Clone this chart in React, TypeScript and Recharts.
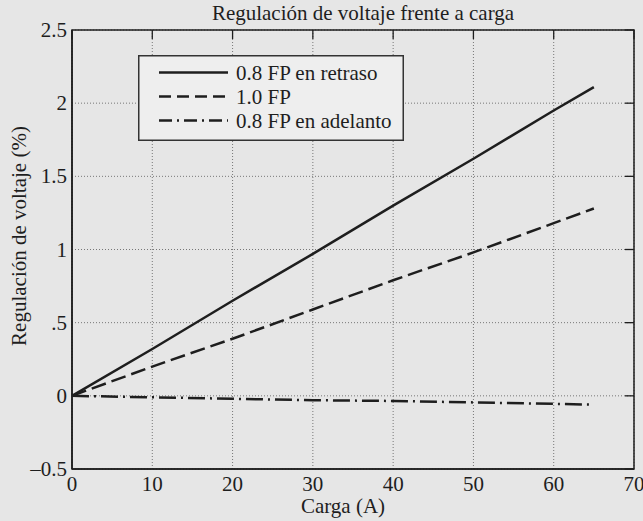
import React from 'react';
import { LineChart, Line, XAxis, YAxis, CartesianGrid, Legend, ReferenceArea } from 'recharts';

// ---- data ----
const cargaA = [0, 10, 20, 30, 40, 50, 60, 65];
const fp08Retraso = [0, 0.32, 0.65, 0.97, 1.3, 1.62, 1.95, 2.11];
const fp10 = [0, 0.2, 0.39, 0.59, 0.79, 0.98, 1.18, 1.28];
const fp08Adelanto = [0, -0.01, -0.02, -0.03, -0.035, -0.045, -0.055, -0.06];

const xTicks = [0, 10, 20, 30, 40, 50, 60, 70];
const yTicks = [-0.5, 0, 0.5, 1, 1.5, 2, 2.5];
const yTickLabels = ['\u20130.5', '0', '.5', '1', '1.5', '2', '2.5'];
const seriesNames = ['0.8 FP en retraso', '1.0 FP', '0.8 FP en adelanto'];
const titleText = 'Regulación de voltaje frente a carga';
const xLabelText = 'Carga (A)';
const yLabelText = 'Regulación de voltaje (%)';

const rows = cargaA.map((x, i) => ({
  x,
  s1: fp08Retraso[i],
  s2: fp10[i],
  s3: fp08Adelanto[i],
}));

// ---- layout / style ----
const W = 643;
const H = 521;
const PLOT_TOP = 30;
const PLOT_RIGHT = 634;
const TICK = 9;
const FONT = '"Liberation Serif", "Times New Roman", serif';
const FS = 21;
const INK = '#1e1e1e';
const BG = '#e6e6e6';

const dashes = [undefined, '15 6', '17 5 2 5'];
const legendDashes = [undefined, '12 6', '13 5 2 5'];

const XTick = (props: any) => {
  const { x, y, payload } = props;
  return (
    <g>
      <line x1={x} y1={PLOT_TOP} x2={x} y2={PLOT_TOP + TICK} stroke={INK} strokeWidth={1.3} />
      <text x={x} y={y + 22} textAnchor="middle" fontFamily={FONT} fontSize={FS} fill={INK}>
        {payload.value}
      </text>
    </g>
  );
};

const YTick = (props: any) => {
  const { x, y, payload } = props;
  const idx = yTicks.indexOf(payload.value);
  return (
    <g>
      <line x1={PLOT_RIGHT - TICK} y1={y} x2={PLOT_RIGHT} y2={y} stroke={INK} strokeWidth={1.3} />
      <text x={x - 5} y={y + 7} textAnchor="end" fontFamily={FONT} fontSize={FS} fill={INK}>
        {idx >= 0 ? yTickLabels[idx] : payload.value}
      </text>
    </g>
  );
};

const LegendBox = () => (
  <svg width={266} height={86} style={{ display: 'block' }}>
    <rect x={0.75} y={0.75} width={264.5} height={84.5} fill="#eeeeee" stroke="#333" strokeWidth={1.5} />
    {seriesNames.map((name, i) => (
      <g key={name}>
        <line
          x1={21}
          x2={90}
          y1={17.5 + i * 24}
          y2={17.5 + i * 24}
          stroke={INK}
          strokeWidth={2.5}
          strokeDasharray={legendDashes[i]}
        />
        <text x={98} y={24.5 + i * 24} fontFamily={FONT} fontSize={FS} fill={INK}>
          {name}
        </text>
      </g>
    ))}
  </svg>
);

export default function App() {
  return (
    <div style={{ position: 'absolute', left: 0, top: 0, width: W, height: H, background: BG }}>
      <LineChart width={W} height={H} data={rows} margin={{ top: PLOT_TOP, right: W - PLOT_RIGHT, bottom: 0, left: 0 }}>
        <CartesianGrid stroke="#777" strokeDasharray="1 2" strokeWidth={1} />
        <XAxis
          dataKey="x"
          type="number"
          domain={[0, 70]}
          ticks={xTicks}
          interval={0}
          height={52}
          tickSize={0}
          tickMargin={0}
          tickLine={false}
          axisLine={{ stroke: INK, strokeWidth: 1.5 }}
          tick={<XTick />}
        />
        <YAxis
          type="number"
          domain={[-0.5, 2.5]}
          ticks={yTicks}
          interval={0}
          width={72}
          tickSize={0}
          tickMargin={0}
          tickLine={false}
          axisLine={{ stroke: INK, strokeWidth: 1.5 }}
          tick={<YTick />}
        />
        <ReferenceArea x1={0} x2={70} y1={-0.5} y2={2.5} fill="none" stroke={INK} strokeWidth={1.5} />
        <Line dataKey="s1" name={seriesNames[0]} stroke={INK} strokeWidth={2.5} dot={false} isAnimationActive={false} />
        <Line dataKey="s2" name={seriesNames[1]} stroke={INK} strokeWidth={2.5} strokeDasharray={dashes[1]} dot={false} isAnimationActive={false} />
        <Line dataKey="s3" name={seriesNames[2]} stroke={INK} strokeWidth={2.5} strokeDasharray={dashes[2]} dot={false} isAnimationActive={false} />
        <Legend
          layout="vertical"
          align="center"
          verticalAlign="middle"
          wrapperStyle={{ top: 55, left: 138, width: 266, height: 86 }}
          content={<LegendBox />}
        />
      </LineChart>
      <svg width={W} height={H} style={{ position: 'absolute', left: 0, top: 0, pointerEvents: 'none' }}>
        <text x={363} y={20} textAnchor="middle" fontFamily={FONT} fontSize={FS} fill={INK}>
          {titleText}
        </text>
        <text x={343} y={513} textAnchor="middle" fontFamily={FONT} fontSize={FS} fill={INK}>
          {xLabelText}
        </text>
        <text transform="translate(26,236) rotate(-90)" textAnchor="middle" fontFamily={FONT} fontSize={FS} fill={INK}>
          {yLabelText}
        </text>
      </svg>
    </div>
  );
}
